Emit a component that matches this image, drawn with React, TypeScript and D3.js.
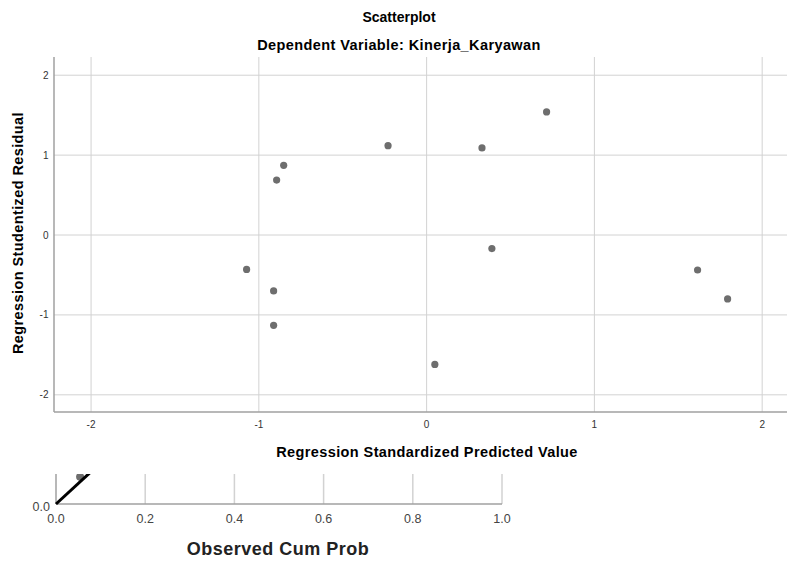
import React from 'react'
import * as d3 from 'd3'

const predicted = [-1.073, -0.894, -0.852, -0.912, -0.912, -0.23, 0.049, 0.33, 0.389, 0.715, 1.615, 1.794]
const residual = [-0.43, 0.688, 0.872, -0.7, -1.13, 1.118, -1.62, 1.09, -0.17, 1.54, -0.438, -0.8]
const xTicks = [-2, -1, 0, 1, 2]
const yTicks = [-2, -1, 0, 1, 2]

// clipped P-P plot fragment underneath
const ppTicks = [0, 0.2, 0.4, 0.6, 0.8, 1.0]
const ppObserved = [0.054]
const ppExpected = [0.066]
const ppDiagonal = [0, 1]

const W = 787
const H = 565
const font = '"Liberation Sans", Arial, sans-serif'

export default function App() {
  // main scatter scales
  const x = d3.scaleLinear().domain([-2.221, 2.148]).range([54, 787])
  const y = d3.scaleLinear().domain([-2.215, 2.228]).range([412, 57])

  // pp plot scales
  const px = d3.scaleLinear().domain([0, 1]).range([56, 502])
  const py = d3.scaleLinear().domain([0, 1]).range([504, 93])

  const points = predicted.map((p, i) => ({ p, r: residual[i] }))
  const diag = d3.line<number>().x(d => px(d)).y(d => py(d))

  return (
    <svg width={W} height={H} style={{ position: 'absolute', left: 0, top: 0, background: '#fff' }}>
      <defs>
        <clipPath id="ppclip">
          <rect x={0} y={474} width={W} height={H - 474} />
        </clipPath>
      </defs>

      {/* titles */}
      <text x={399} y={21.5} textAnchor="middle" fontFamily={font} fontWeight="bold" fontSize={14} fill="#000">
        Scatterplot
      </text>
      <text x={399} y={50} textAnchor="middle" fontFamily={font} fontWeight="bold" fontSize={14.5} letterSpacing={0.4} fill="#000">
        Dependent Variable: Kinerja_Karyawan
      </text>

      {/* gridlines */}
      {xTicks.map(t => (
        <line key={'gx' + t} x1={x(t)} x2={x(t)} y1={57} y2={412} stroke="#d2d2d2" strokeWidth={1} />
      ))}
      {yTicks.map(t => (
        <line key={'gy' + t} x1={54} x2={787} y1={y(t)} y2={y(t)} stroke="#d2d2d2" strokeWidth={1} />
      ))}

      {/* axes */}
      <line x1={54} x2={54} y1={57} y2={412} stroke="#a0a0a0" strokeWidth={1.5} />
      <line x1={54} x2={787} y1={412} y2={412} stroke="#a0a0a0" strokeWidth={1.5} />

      {yTicks.map(t => (
        <text key={'yl' + t} x={48.5} y={y(t) + 3.5} textAnchor="end" fontFamily={font} fontSize={10} fill="#333">
          {t}
        </text>
      ))}
      {xTicks.map(t => (
        <text key={'xl' + t} x={x(t)} y={428} textAnchor="middle" fontFamily={font} fontSize={10} fill="#333">
          {t}
        </text>
      ))}

      <text x={427} y={456.5} textAnchor="middle" fontFamily={font} fontWeight="bold" fontSize={14.5} letterSpacing={0.4} fill="#000">
        Regression Standardized Predicted Value
      </text>
      <text
        transform={`translate(23,233) rotate(-90)`}
        textAnchor="middle"
        fontFamily={font}
        fontWeight="bold"
        fontSize={14.5}
        letterSpacing={0.4}
        fill="#000"
      >
        Regression Studentized Residual
      </text>

      {/* points */}
      {points.map((d, i) => (
        <circle key={i} cx={x(d.p)} cy={y(d.r)} r={3.6} fill="#6e6e6e" />
      ))}

      {/* P-P plot fragment */}
      {ppTicks.filter(t => t > 0).map(t => (
        <line key={'pg' + t} x1={px(t)} x2={px(t)} y1={474} y2={504} stroke="#d2d2d2" strokeWidth={1.5} />
      ))}
      <line x1={56} x2={56} y1={474} y2={504} stroke="#a0a0a0" strokeWidth={1.5} />
      <line x1={56} x2={502} y1={504} y2={504} stroke="#a0a0a0" strokeWidth={1.5} />
      <g clipPath="url(#ppclip)">
        {ppObserved.map((o, i) => (
          <circle key={'pp' + i} cx={px(o)} cy={py(ppExpected[i])} r={4} fill="#6e6e6e" />
        ))}
        <path d={diag(ppDiagonal) || ''} stroke="#000" strokeWidth={3} fill="none" />
      </g>
      <text x={50} y={511} textAnchor="end" fontFamily={font} fontSize={12.5} fill="#444">
        0.0
      </text>
      {ppTicks.map(t => (
        <text key={'pl' + t} x={px(t)} y={522.5} textAnchor="middle" fontFamily={font} fontSize={12.5} fill="#444">
          {t.toFixed(1)}
        </text>
      ))}
      <text x={278} y={554.5} textAnchor="middle" fontFamily={font} fontWeight="bold" fontSize={18} letterSpacing={0.5} fill="#222">
        Observed Cum Prob
      </text>
    </svg>
  )
}
